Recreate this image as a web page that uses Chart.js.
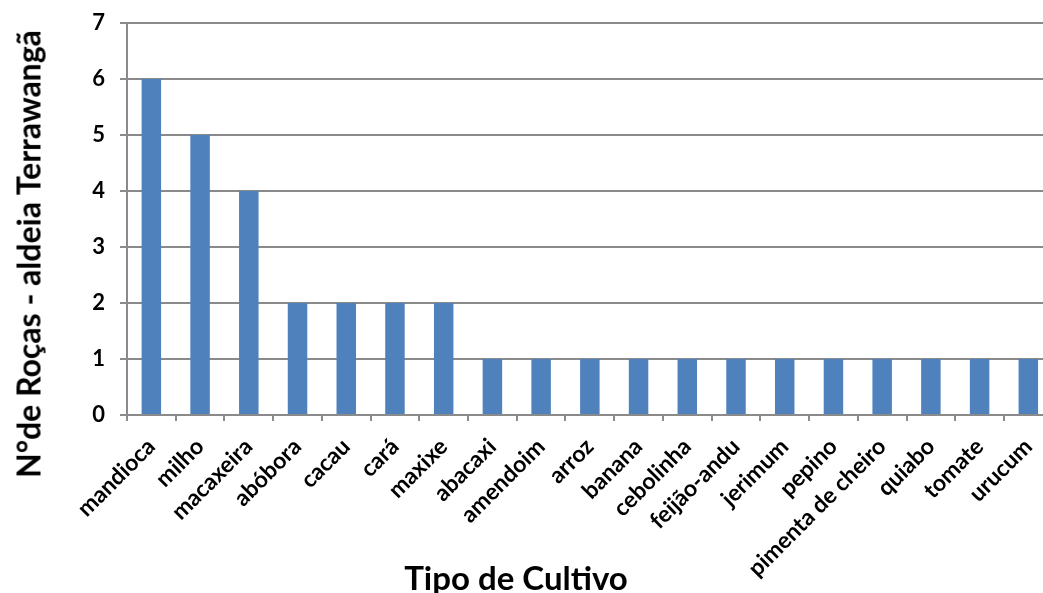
<!DOCTYPE html>
<html>
<head>
<meta charset="utf-8">
<script src="https://cdn.jsdelivr.net/npm/chart.js@4/dist/chart.umd.min.js"></script>
<style>
  html, body { margin: 0; padding: 0; background: #fff; overflow: hidden; width: 1043px; height: 593px; }
  #wrap { position: relative; width: 1060px; height: 593px; }
  .ytitle {
    position: absolute; left: 28px; top: 254px;
    transform: translate(-50%, -50%) rotate(-90deg);
    font: bold 32px Lato, sans-serif; white-space: nowrap; color: #000;
  }
  .xtitle {
    position: absolute; left: 516px; top: 557px;
    transform: translateX(-50%);
    font: bold 33px Lato, sans-serif; white-space: nowrap; color: #000;
  }
</style>
</head>
<body>
<div id="wrap">
  <canvas id="grafico" width="1060" height="593"></canvas>
  <div class="ytitle">N°de Roças - aldeia Terrawangã</div>
  <div class="xtitle">Tipo de Cultivo</div>
</div>
<script>
// ----- Dados -----
const cultivos = ["mandioca", "milho", "macaxeira", "abóbora", "cacau", "cará", "maxixe", "abacaxi",
  "amendoim", "arroz", "banana", "cebolinha", "feijão-andu", "jerimum", "pepino",
  "pimenta de cheiro", "quiabo", "tomate", "urucum"];
const rocas = [6, 5, 4, 2, 2, 2, 2, 1, 1, 1, 1, 1, 1, 1, 1, 1, 1, 1, 1];
const yTicks = [0, 1, 2, 3, 4, 5, 6, 7];

const cinza = "#8a8a8a";

// ----- Gráfico -----
new Chart(document.getElementById("grafico"), {
  type: "bar",
  data: {
    labels: cultivos,
    datasets: [{ data: rocas, backgroundColor: "#4f81bd", barPercentage: 0.4, categoryPercentage: 1 }]
  },
  options: {
    responsive: false,
    animation: false,
    layout: { padding: { top: 23, right: 6, left: 0, bottom: 0 } },
    plugins: { legend: { display: false }, tooltip: { enabled: false } },
    scales: {
      x: {
        offset: true,
        grid: { offset: true, drawOnChartArea: false, color: cinza, lineWidth: 2, tickLength: 6, tickColor: cinza },
        border: { color: cinza, width: 2 },
        ticks: { color: "#000", font: { family: "Lato", weight: "bold", size: 23 }, maxRotation: 45, minRotation: 45, padding: 12, autoSkip: false },
        afterFit: s => { s.height = 178; }
      },
      y: {
        min: 0, max: 7,
        afterBuildTicks: s => { s.ticks = yTicks.map(v => ({ value: v })); },
        grid: { color: cinza, lineWidth: 2, tickLength: 7, tickColor: cinza },
        border: { color: cinza, width: 2 },
        ticks: { color: "#000", font: { family: "Lato", weight: "bold", size: 22 }, padding: 15 },
        // largura fixa do eixo e sem folga extra em cima (área do gráfico começa em y=23)
        afterFit: s => { s.width = 127; s.paddingTop = 0; s.paddingBottom = 0; }
      }
    }
  }
});
</script>
</body>
</html>
